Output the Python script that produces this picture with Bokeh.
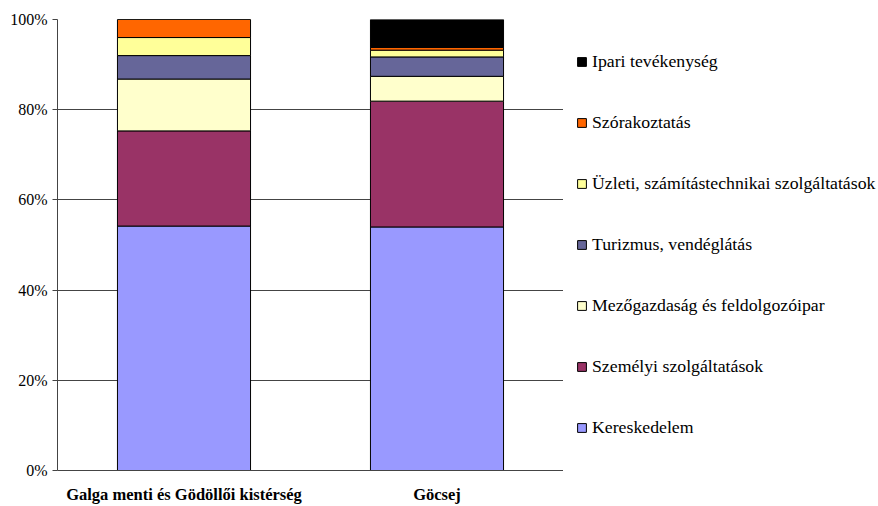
from bokeh.plotting import figure
from bokeh.models import FactorRange, Range1d, FixedTicker, Legend, LegendItem
from bokeh.layouts import row
from bokeh.embed import file_html
from bokeh.resources import INLINE

categories = ["Galga menti és Gödöllői kistérség", "Göcsej"]
series = ["Kereskedelem", "Személyi szolgáltatások", "Mezőgazdaság és feldolgozóipar",
          "Turizmus, vendéglátás", "Üzleti, számítástechnikai szolgáltatások",
          "Szórakoztatás", "Ipari tevékenység"]
kereskedelem = [54.2, 54.0]
szemelyi = [21.1, 27.9]
mezogazdasag = [11.5, 5.5]
turizmus = [5.2, 4.3]
uzleti = [4.0, 1.5]
szorakoztatas = [4.0, 0.6]
ipari = [0.0, 6.2]
colors = ["#9999FF", "#993366", "#FFFFCC", "#666699", "#FFFF99", "#FF6600", "#000000"]
y_ticks = [0, 20, 40, 60, 80, 100]
y_tick_labels = ["0%", "20%", "40%", "60%", "80%", "100%"]

data = {"cat": categories, series[0]: kereskedelem, series[1]: szemelyi, series[2]: mezogazdasag,
        series[3]: turizmus, series[4]: uzleti, series[5]: szorakoztatas, series[6]: ipari}

FONT = "Liberation Serif"

p = figure(width=563, height=506, x_range=FactorRange(*categories, range_padding=0),
           y_range=Range1d(0, 100), output_backend="svg", toolbar_location=None,
           min_border_left=57, min_border_top=19, min_border_bottom=33, min_border_right=0)
p.outline_line_color = None

renderers = p.vbar_stack(series, x="cat", width=0.526, source=data, color=colors,
                         line_color="black", line_width=1)

p.yaxis.ticker = FixedTicker(ticks=y_ticks)
p.yaxis.major_label_overrides = {t: l for t, l in zip(y_ticks, y_tick_labels)}
p.yaxis.major_label_text_font = FONT
p.yaxis.major_label_text_font_size = "16px"
p.yaxis.major_label_text_color = "black"
p.yaxis.major_tick_out = 5
p.yaxis.major_tick_in = 0
p.yaxis.minor_tick_line_color = None
p.yaxis.major_label_standoff = 5
p.yaxis.axis_line_color = "#444444"
p.yaxis.major_tick_line_color = "#444444"

p.xaxis.major_label_text_font = FONT
p.xaxis.major_label_text_font_style = "bold"
p.xaxis.major_label_text_font_size = "16.5px"
p.xaxis.major_label_text_color = "black"
p.xaxis.major_tick_line_color = None
p.xaxis.major_tick_out = 0
p.xaxis.major_tick_in = 0
p.xaxis.major_label_standoff = 14
p.xaxis.axis_line_color = "#444444"

p.xgrid.grid_line_color = None
p.ygrid.grid_line_color = "#444444"
p.ygrid.ticker = FixedTicker(ticks=y_ticks)

# Legend panel: the same stacked series, hidden, only used for the legend keys
p2 = figure(width=313, height=506, x_range=FactorRange(*categories), y_range=Range1d(0, 100),
            output_backend="svg", toolbar_location=None, min_border=0,
            x_axis_location=None, y_axis_location=None)
p2.outline_line_color = None
p2.grid.visible = False
leg_renderers = p2.vbar_stack(series, x="cat", width=0.5, source=data, color=colors,
                              line_color="black", line_width=1)
for r in leg_renderers:
    r.visible = False

items = [LegendItem(label=s, renderers=[r]) for s, r in zip(series, leg_renderers)][::-1]
legend = Legend(items=items, location=(13, 32), orientation="vertical",
                label_text_font=FONT, label_text_font_size="17.75px", label_text_color="black",
                glyph_width=11, glyph_height=11, label_standoff=5, spacing=40,
                label_height=20, padding=0, margin=0, border_line_color=None,
                background_fill_alpha=0, inactive_fill_alpha=0)
p2.add_layout(legend, "center")

open("out.html", "w").write(file_html(row(p, p2), INLINE))
